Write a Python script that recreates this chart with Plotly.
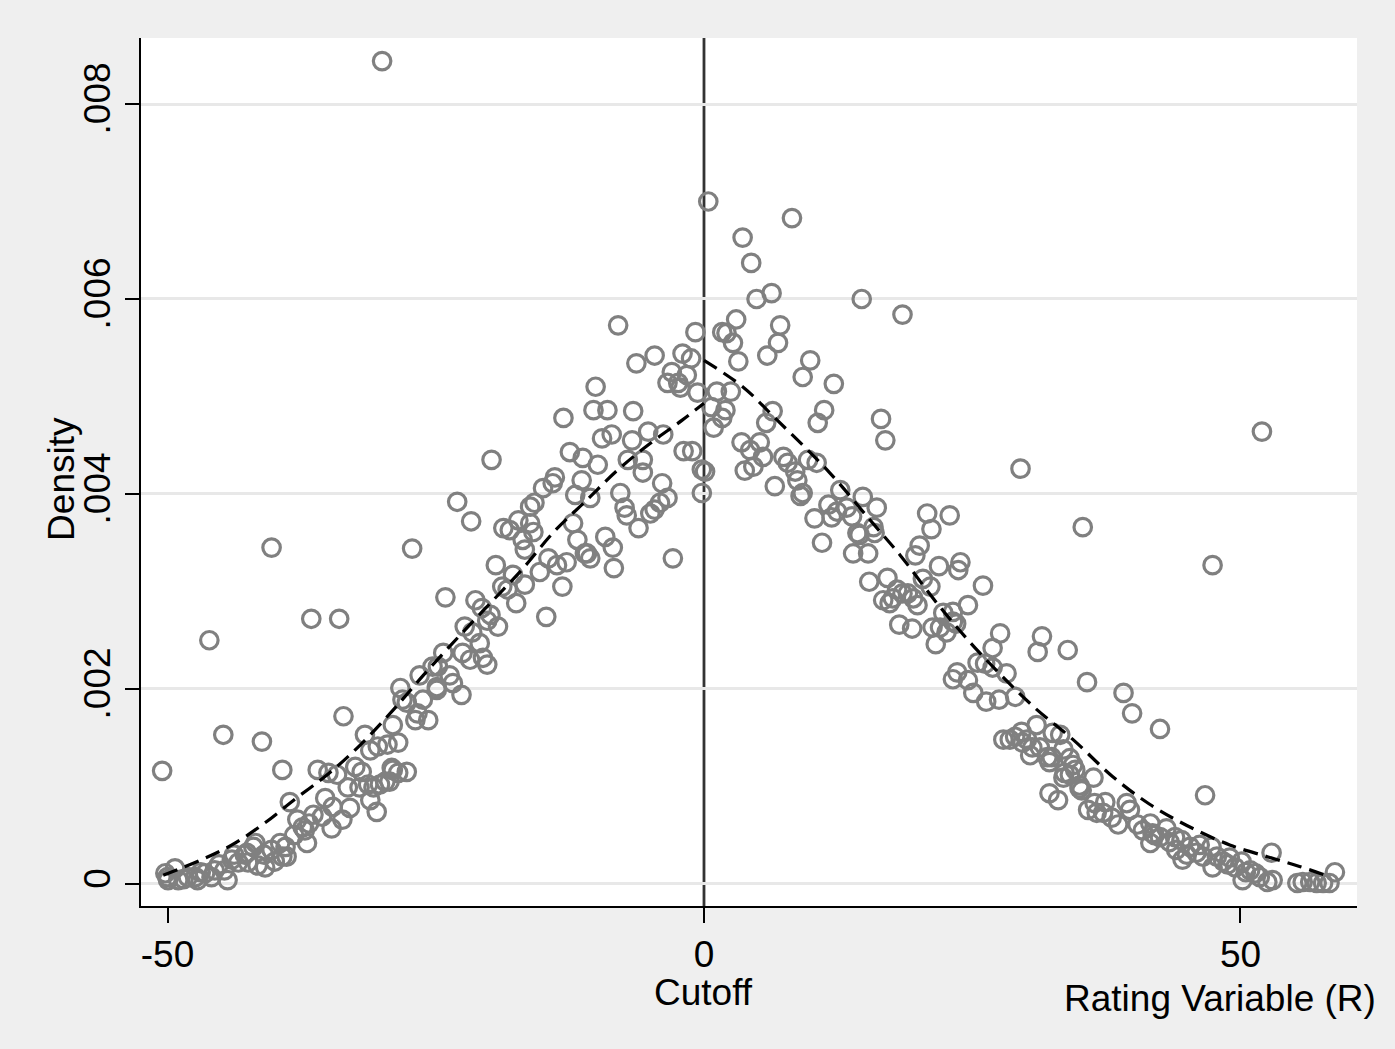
import plotly.graph_objects as go

# ---- scatter data: rating variable (R) and density ----
rating_left = [
    -30.0, -50.5, -46.1, -44.8, -41.2, -40.3, -39.3, -38.6, -36.6, -34.0, -33.6, -36.0,
    -27.2, -23.0, -21.7, -24.1, -19.8, -14.7, -2.9,
    -35.0, -34.2, -32.5, -31.9, -31.6, -31.1, -30.4, -29.5, -28.5, -29.0, -28.3, -28.1,
    -27.7, -26.5, -25.3, -24.9, -26.7, -26.2, -25.7, -26.9, -29.0, -27.7, -29.3, -29.1,
    -28.5, -33.2, -32.1, -30.8, -30.2, -31.3, -29.7, -31.1, -30.5, -35.3, -34.6, -33.0,
    -33.7, -36.4, -35.6, -34.7, -37.9, -37.4, -37.2, -37.0, -39.5, -38.9, -39.0, -41.8,
    -42.8, -42.0, -42.6, -40.3, -39.3, -40.0, -44.0, -43.4, -42.5, -41.6, -40.9, -44.7,
    -44.4, -45.6, -46.5, -47.4, -48.1, -49.0, -49.95, -49.3, -50.2, -47.2, -45.9, -50.0,
    -48.5, -46.9, -45.2, -43.8, -41.0, -38.2, -36.8,
    -13.1, -10.1, -10.3, -9.0, -6.6, -6.3, -4.6, -3.0, -1.6, -2.0, -1.2, -3.4, -2.4,
    -2.2, -0.6, -8.0, -0.8, -9.5, -8.6, -6.7, -5.2, -3.8, -12.5, -11.3, -9.9, -7.1,
    -5.7, -5.7, -11.4, -13.9, -14.1, -12.0, -10.6, -15.0, -15.8, -16.2, -18.7, -18.1,
    -17.3, -16.2, -15.9, -12.2, -11.8, -10.9, -10.6, -7.8, -7.4, -7.2, -6.1, -5.0,
    -4.6, -4.1, -3.9, -3.4, -9.2, -8.5, -8.4, -16.9, -16.7, -19.4, -17.8, -16.7, -17.5,
    -15.3, -14.5, -13.7, -12.8, -13.2, -11.1, -18.8, -18.3, -21.3, -20.7, -19.9, -19.2,
    -20.2, -22.3, -21.6, -20.9, -20.6, -20.2, -24.3, -22.5, -21.8, -24.8, -23.7, -23.4,
    -24.9, -22.6, -1.9, -1.1, -0.2, -0.2,
]
density_left = [
    0.00844, 0.00116, 0.00250, 0.00153, 0.00146, 0.00345, 0.00117, 0.00084, 0.00272, 0.00272, 0.00172, 0.00117,
    0.00344, 0.00392, 0.00372, 0.00294, 0.00435, 0.00274, 0.00334,
    0.00114, 0.00112, 0.00120, 0.00115, 0.00153, 0.00137, 0.00141, 0.00143, 0.00145, 0.00163, 0.00201, 0.00189,
    0.00186, 0.00214, 0.00223, 0.00202, 0.00175, 0.00189, 0.00168, 0.00168, 0.00117, 0.00115, 0.00105, 0.00119,
    0.00114, 0.00099, 0.00099, 0.00099, 0.00102, 0.00102, 0.00105, 0.00086, 0.00074, 0.00088, 0.00079, 0.00078,
    0.00066, 0.00071, 0.00069, 0.00057, 0.00066, 0.00058, 0.00055, 0.00042, 0.00042, 0.00028, 0.00038, 0.00042,
    0.00030, 0.00038, 0.00032, 0.00035, 0.00028, 0.00023, 0.00025, 0.00022, 0.00022, 0.00019, 0.00017, 0.00014,
    0.00004, 0.00014, 0.00011, 0.00007, 0.00007, 0.00004, 0.00004, 0.00016, 0.00011, 0.00004, 0.00007, 0.00007,
    0.00005, 0.00012, 0.00020, 0.00030, 0.00030, 0.00050, 0.00062,
    0.00478, 0.00510, 0.00486, 0.00486, 0.00485, 0.00534, 0.00542, 0.00525, 0.00522, 0.00544, 0.00539, 0.00514, 0.00514,
    0.00509, 0.00504, 0.00573, 0.00566, 0.00457, 0.00461, 0.00455, 0.00464, 0.00461, 0.00443, 0.00437, 0.00430, 0.00435,
    0.00435, 0.00422, 0.00414, 0.00417, 0.00411, 0.00399, 0.00396, 0.00406, 0.00391, 0.00387, 0.00365, 0.00363,
    0.00373, 0.00370, 0.00361, 0.00370, 0.00353, 0.00339, 0.00334, 0.00401, 0.00386, 0.00378, 0.00365, 0.00380,
    0.00384, 0.00391, 0.00411, 0.00396, 0.00356, 0.00345, 0.00324, 0.00353, 0.00343, 0.00327, 0.00317, 0.00307, 0.00288,
    0.00320, 0.00334, 0.00327, 0.00330, 0.00305, 0.00339, 0.00305, 0.00302, 0.00291, 0.00283, 0.00276, 0.00264,
    0.00270, 0.00264, 0.00258, 0.00247, 0.00232, 0.00225, 0.00237, 0.00237, 0.00230, 0.00223, 0.00214, 0.00206,
    0.00199, 0.00194, 0.00444, 0.00444, 0.00425, 0.00401,
]

rating_right = [
    0.4, 8.2, 3.6, 4.4, 4.9, 6.3, 14.7, 18.5, 3.0, 7.1, 6.9, 1.7, 2.1, 2.7, 3.2, 5.9, 9.9, 9.2, 12.1,
    1.2, 2.5, 0.7, 2.0, 1.7, 0.9, 0.1,
    6.4, 5.8, 11.2, 10.6, 16.5, 16.9, 3.5, 4.3, 5.2, 5.5, 3.8, 4.6, 7.4, 7.8, 8.5, 8.7, 9.2, 9.0,
    6.6, 9.7, 10.5, 12.7, 14.8, 16.1, 10.3, 11.6, 11.9, 12.4, 13.3, 13.8, 14.3, 14.5, 15.8, 15.9,
    11.0, 13.9, 15.3, 20.8, 22.9, 21.2, 20.1, 19.7, 21.9, 23.9, 23.7, 15.4,
    17.1, 18.0, 18.5, 19.0, 17.6, 16.7, 17.3, 19.5, 19.9, 20.4, 21.1, 18.2, 19.4,
    21.3, 22.0, 22.6, 21.6, 23.2, 23.2, 26.0, 24.6, 22.3, 23.5, 27.6, 26.9,
    31.5, 31.1, 33.9, 25.5, 26.2, 26.9, 28.2, 23.6, 23.2, 24.6, 25.1, 26.3, 27.5, 29.0,
    35.7, 39.1, 39.9, 42.5, 29.5, 35.3, 47.4, 52.0, 46.7, 52.9, 58.8,
    28.5, 29.0, 29.6, 31.0, 29.7, 30.4, 31.3, 32.0, 32.2, 32.5, 33.2, 33.5, 34.1, 34.4,
    34.6, 33.5, 34.1, 35.0, 35.0, 36.3, 32.2, 33.0, 35.8, 36.4, 36.6, 27.9, 30.1, 30.6,
    32.4, 33.6, 35.2, 37.4, 37.2, 38.0, 38.6, 39.4, 39.7, 40.4, 40.9, 41.6, 41.8, 42.5,
    43.1, 43.4, 43.9, 44.5, 44.6, 45.3, 45.9, 46.2, 46.5, 47.3, 47.4, 47.8, 48.4, 49.0,
    49.5, 50.1, 50.2, 50.9, 51.4, 51.8, 52.5, 53.0, 55.3, 55.8, 56.5, 57.1, 57.7, 58.3,
    41.6, 42.0, 44.0, 45.0, 48.8, 50.5,
]
density_right = [
    0.00700, 0.00683, 0.00663, 0.00637, 0.00600, 0.00606, 0.00600, 0.00584, 0.00579, 0.00573, 0.00555, 0.00566, 0.00565, 0.00555, 0.00536, 0.00542, 0.00537, 0.00520, 0.00513,
    0.00505, 0.00505, 0.00489, 0.00486, 0.00478, 0.00468, 0.00423,
    0.00485, 0.00473, 0.00486, 0.00473, 0.00477, 0.00455, 0.00453, 0.00445, 0.00453, 0.00438, 0.00424, 0.00428, 0.00438, 0.00432, 0.00423, 0.00414, 0.00401, 0.00398,
    0.00408, 0.00435, 0.00432, 0.00404, 0.00397, 0.00386, 0.00375, 0.00389, 0.00376, 0.00382, 0.00386, 0.00377, 0.00360, 0.00358, 0.00366, 0.00360,
    0.00350, 0.00339, 0.00339, 0.00380, 0.00378, 0.00364, 0.00347, 0.00337, 0.00326, 0.00330, 0.00322, 0.00310,
    0.00314, 0.00302, 0.00298, 0.00298, 0.00293, 0.00291, 0.00288, 0.00293, 0.00286, 0.00313, 0.00305, 0.00266, 0.00262,
    0.00263, 0.00263, 0.00258, 0.00246, 0.00269, 0.00279, 0.00306, 0.00286, 0.00278, 0.00267, 0.00257, 0.00242,
    0.00254, 0.00238, 0.00240, 0.00227, 0.00226, 0.00222, 0.00216, 0.00217, 0.00210, 0.00209, 0.00196, 0.00187, 0.00189, 0.00192,
    0.00207, 0.00196, 0.00175, 0.00159, 0.00426, 0.00366, 0.00327, 0.00464, 0.00091, 0.00032, 0.00012,
    0.00148, 0.00151, 0.00156, 0.00163, 0.00145, 0.00132, 0.00140, 0.00130, 0.00125, 0.00155, 0.00153, 0.00138, 0.00129, 0.00122,
    0.00117, 0.00109, 0.00112, 0.00101, 0.00098, 0.00109, 0.00093, 0.00086, 0.00076, 0.00083, 0.00073, 0.00148, 0.00148, 0.00140,
    0.00130, 0.00114, 0.00096, 0.00084, 0.00073, 0.00068, 0.00061, 0.00083, 0.00076, 0.00061, 0.00055, 0.00062, 0.00052, 0.00048,
    0.00057, 0.00043, 0.00048, 0.00045, 0.00025, 0.00038, 0.00032, 0.00040, 0.00028, 0.00038, 0.00017, 0.00028, 0.00023, 0.00027,
    0.00017, 0.00023, 0.00004, 0.00014, 0.00011, 0.00007, 0.00002, 0.00004, 0.00001, 0.00002, 0.00002, 0.00001, 0.00001, 0.00001,
    0.00042, 0.00050, 0.00035, 0.00030, 0.00020, 0.00012,
]

# ---- fitted density curves on each side of the cutoff ----
fit_left_x = [-50.4, -47, -44, -41, -38, -35, -32, -29, -26, -23, -20, -17, -14, -11, -8, -5, -2, 0]
fit_left_y = [0.00009, 0.00024, 0.00040, 0.00062, 0.00088, 0.00113, 0.00143, 0.00178, 0.00216, 0.00252,
              0.00287, 0.00322, 0.00361, 0.00393, 0.00425, 0.00452, 0.00476, 0.00493]
fit_right_x = [0, 3.6, 6.8, 11.7, 15.5, 18.3, 22.0, 25.7, 30.7, 34.4, 38.1, 41.5, 45.0, 49.0, 52.5, 55.5, 57.9]
fit_right_y = [0.00537, 0.00510, 0.00476, 0.00422, 0.00373, 0.00337, 0.00284, 0.00237, 0.00182, 0.00148,
               0.00110, 0.00082, 0.00060, 0.00040, 0.00028, 0.00018, 0.00009]

x_ticks = [-50, 0, 50]
x_ticktext = ["-50", "0", "50"]
y_ticks = [0, 0.002, 0.004, 0.006, 0.008]
y_ticktext = ["0", ".002", ".004", ".006", ".008"]

FONT = "Liberation Sans, Arial, Helvetica, sans-serif"
GRAY = "#808080"
FS = 37

fig = go.Figure()
fig.add_trace(go.Scatter(
    x=rating_left + rating_right, y=density_left + density_right, mode="markers",
    marker=dict(symbol="circle-open", size=17.5, color=GRAY, line=dict(width=3.2, color=GRAY)),
    showlegend=False, hoverinfo="skip"))
fig.add_trace(go.Scatter(x=fit_left_x, y=fit_left_y, mode="lines",
                         line=dict(color="black", width=3.2, dash="15px,8px", shape="spline"),
                         showlegend=False))
fig.add_trace(go.Scatter(x=fit_right_x, y=fit_right_y, mode="lines",
                         line=dict(color="black", width=3.2, dash="15px,8px", shape="spline"),
                         showlegend=False))

fig.add_shape(type="line", x0=0, x1=0, xref="x", y0=0, y1=1, yref="paper",
              line=dict(color="#333333", width=2.8), layer="below")

fig.update_layout(
    width=1395, height=1049,
    margin=dict(l=141, r=38, t=38, b=143),
    paper_bgcolor="#efefef", plot_bgcolor="white",
    font=dict(family=FONT, size=FS, color="black"),
    xaxis=dict(range=[-52.47, 60.86], tickvals=x_ticks, ticktext=x_ticktext,
               ticks="outside", ticklen=15, tickwidth=2, tickcolor="black",
               showline=True, linecolor="black", linewidth=2, showgrid=False, zeroline=False,
               tickfont=dict(family=FONT, size=FS, color="black")),
    yaxis=dict(range=[-0.000226, 0.008677], tickvals=y_ticks, ticktext=y_ticktext, tickangle=-90,
               ticks="outside", ticklen=14, tickwidth=2, tickcolor="black",
               showline=True, linecolor="black", linewidth=2, showgrid=True,
               gridcolor="#e8e8e8", gridwidth=2.5, zeroline=False,
               tickfont=dict(family=FONT, size=FS, color="black")),
    annotations=[
        dict(text="Density", xref="paper", yref="paper", x=-0.065, y=0.492, textangle=-90,
             showarrow=False, xanchor="center", yanchor="middle", font=dict(size=FS)),
        dict(text="Cutoff", xref="x", yref="paper", x=0, y=-0.100, showarrow=False,
             xanchor="center", yanchor="middle", font=dict(size=FS)),
        dict(text="Rating Variable (R)", xref="paper", yref="paper", x=1.0173, y=-0.106,
             showarrow=False, xanchor="right", yanchor="middle", font=dict(size=FS)),
    ],
)

fig.write_html("out.html", config={"displayModeBar": False},
               post_script="document.body.style.margin='0px';")
